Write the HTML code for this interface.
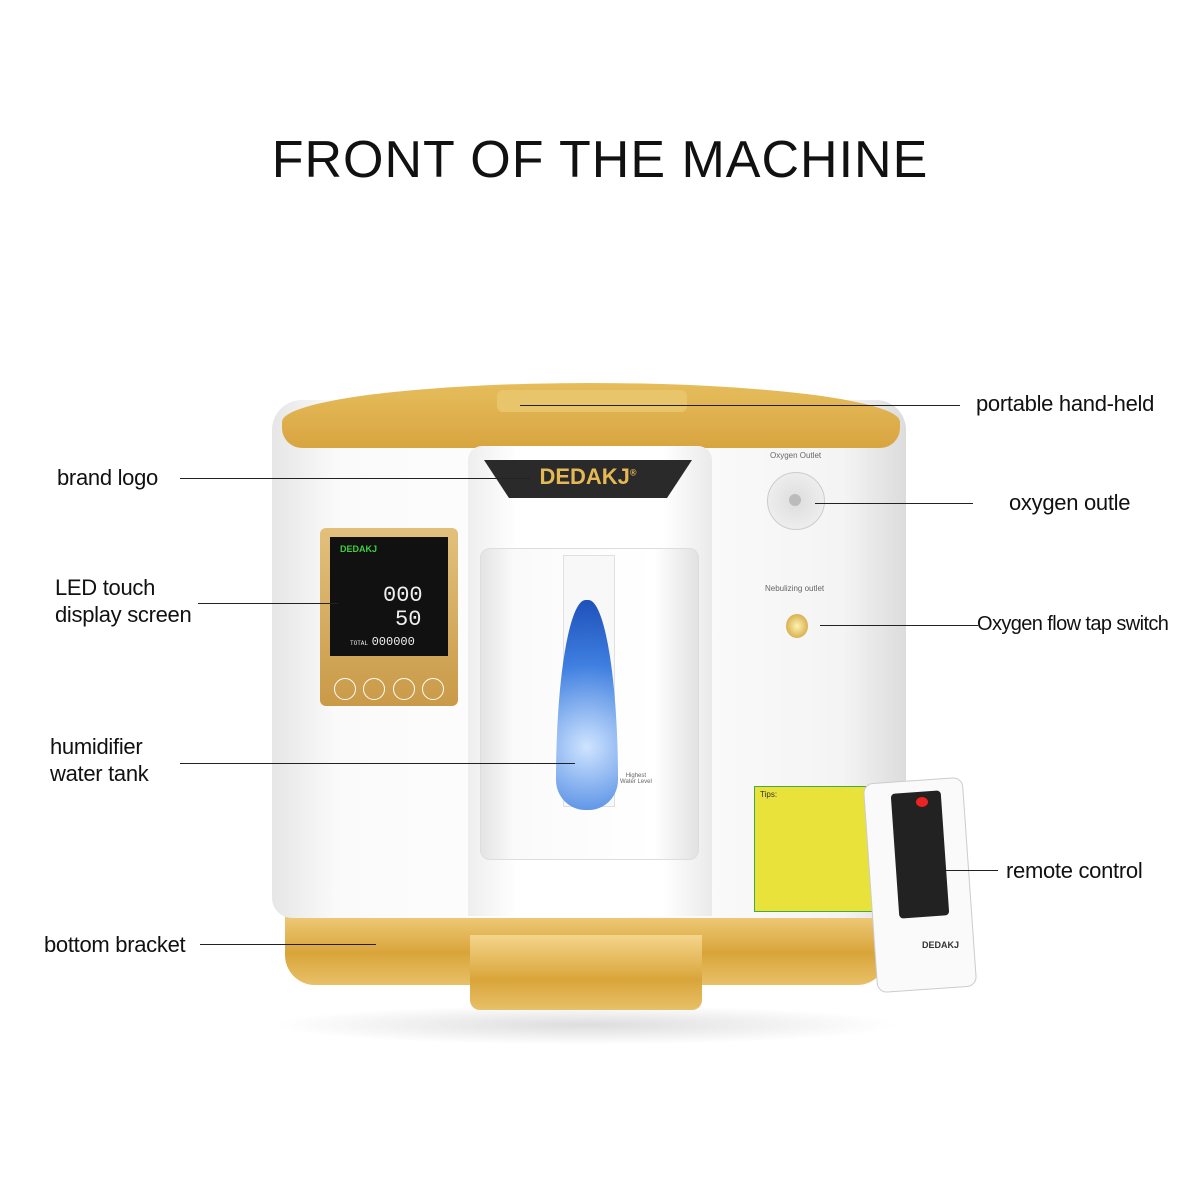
<!DOCTYPE html>
<html><head><meta charset="utf-8"><style>
body{margin:0;width:1200px;height:1200px;background:#fff;position:relative;overflow:hidden;font-family:"Liberation Sans",sans-serif}
.a{position:absolute}
.lbl{position:absolute;font-size:22px;color:#111;line-height:27px;letter-spacing:-0.3px}
.ln{position:absolute;height:1px;background:#222}
</style></head><body>
<div class="a" style="left:0;width:1200px;top:130px;text-align:center;font-size:52px;letter-spacing:1px;color:#111">FRONT OF THE MACHINE</div>

<div class="a" style="left:270px;top:1005px;width:630px;height:40px;border-radius:50%;background:radial-gradient(#ddd,#fff 70%)"></div>
<!-- bottom gold -->
<div class="a" style="left:285px;top:905px;width:602px;height:80px;border-radius:0 0 30px 30px;background:linear-gradient(#f4d58a,#d9a53a 60%,#e8c068)"></div>
<div class="a" style="left:470px;top:935px;width:232px;height:75px;border-radius:0 0 10px 10px;background:linear-gradient(#f4d58a,#d9a53a 60%,#e8c068)"></div>
<div class="a" style="left:272px;top:400px;width:634px;height:518px;border-radius:30px 30px 20px 20px;background:linear-gradient(90deg,#e6e6e6,#fafafa 10%,#fff 50%,#f4f4f4 90%,#dcdcdc)"></div>
<div class="a" style="left:282px;top:383px;width:618px;height:65px;border-radius:50% 50% 20px 20px/60% 60% 20px 20px;background:linear-gradient(#e6bd5c,#d8a540)"></div>
<div class="a" style="left:497px;top:390px;width:190px;height:22px;border-radius:6px;background:#e8c46a"></div>
<div class="a" style="left:468px;top:446px;width:244px;height:470px;border-radius:14px 14px 0 0;background:linear-gradient(90deg,#eee,#fff 20%,#fff 80%,#eaeaea)"></div>
<div class="a" style="left:484px;top:460px;width:208px;height:38px;background:#2a2a2a;clip-path:polygon(0 0,100% 0,88% 100%,12% 100%)"></div>
<div class="a" style="left:484px;top:464px;width:208px;text-align:center;font-weight:bold;font-size:22px;color:#e5b856">DEDAKJ<sup style="font-size:9px">®</sup></div>
<div class="a" style="left:480px;top:548px;width:217px;height:310px;border-radius:10px;background:linear-gradient(90deg,#e4e4e4,#fafafa 15%,#fff 80%,#e2e2e2);border:1px solid #ddd"></div>
<div class="a" style="left:563px;top:555px;width:50px;height:250px;background:#f8f8f8;border:1px solid #e0e0e0"></div>
<div class="a" style="left:556px;top:600px;width:62px;height:210px;background:radial-gradient(circle at 50% 70%,#cfe4ff,#3f7fe0 55%,#1d4fb8);border-radius:50% 50% 50% 50%/90% 90% 15% 15%"></div>
<div class="a" style="left:620px;top:773px;font-size:6px;color:#666;text-align:center">Highest<br>Water Level</div>
<div class="a" style="left:320px;top:528px;width:138px;height:178px;border-radius:6px;background:linear-gradient(#e2c07c,#c99a48)"></div>
<div class="a" style="left:330px;top:537px;width:118px;height:119px;background:#111"></div>
<div class="a" style="left:340px;top:544px;font-size:9px;color:#3ecf3e;font-weight:bold">DEDAKJ</div>
<div class="a" style="left:383px;top:583px;font-size:22px;color:#eee;font-family:'Liberation Mono',monospace">000</div>
<div class="a" style="left:395px;top:607px;font-size:22px;color:#eee;font-family:'Liberation Mono',monospace">50</div>
<div class="a" style="left:350px;top:635px;font-size:12px;color:#eee;font-family:'Liberation Mono',monospace"><span style="font-size:6px">TOTAL </span>000000</div>
<div class="a" style="left:334px;top:678px;width:110px;display:flex;justify-content:space-between">
<span style="width:20px;height:20px;border:1px solid #fff;border-radius:50%"></span><span style="width:20px;height:20px;border:1px solid #fff;border-radius:50%"></span><span style="width:20px;height:20px;border:1px solid #fff;border-radius:50%"></span><span style="width:20px;height:20px;border:1px solid #fff;border-radius:50%"></span></div>
<div class="a" style="left:770px;top:451px;font-size:8px;color:#666">Oxygen Outlet</div>
<div class="a" style="left:767px;top:472px;width:56px;height:56px;border-radius:50%;background:radial-gradient(#ddd,#f4f4f4);border:1px solid #ccc"></div>
<div class="a" style="left:789px;top:494px;width:12px;height:12px;border-radius:50%;background:#bbb"></div>
<div class="a" style="left:765px;top:584px;font-size:8px;color:#666">Nebulizing outlet</div>
<div class="a" style="left:786px;top:614px;width:22px;height:24px;border-radius:50%;background:radial-gradient(#fff3b0,#c8952a)"></div>
<div class="a" style="left:754px;top:786px;width:118px;height:124px;background:#e9e23a;border:1px solid #4a4"></div>
<div class="a" style="left:760px;top:790px;font-size:8px;color:#333">Tips:</div>
<div class="a" style="left:870px;top:780px;width:98px;height:208px;border-radius:10px;background:#fafafa;border:1px solid #ccc;transform:rotate(-4deg)"></div>
<div class="a" style="left:895px;top:792px;width:50px;height:125px;border-radius:4px;background:#222;transform:rotate(-4deg)"></div>
<div class="a" style="left:916px;top:797px;width:12px;height:10px;border-radius:50%;background:#e22"></div>
<div class="a" style="left:922px;top:940px;font-size:9px;font-weight:bold;color:#333">DEDAKJ</div>

<div class="lbl" style="left:976px;top:390px">portable hand-held</div>
<div class="ln" style="left:520px;top:405px;width:440px"></div>
<div class="lbl" style="left:57px;top:464px">brand logo</div>
<div class="ln" style="left:180px;top:478px;width:350px"></div>
<div class="lbl" style="left:1009px;top:489px">oxygen outle</div>
<div class="ln" style="left:815px;top:503px;width:158px"></div>
<div class="lbl" style="left:55px;top:574px">LED touch<br>display screen</div>
<div class="ln" style="left:198px;top:603px;width:140px"></div>
<div class="lbl" style="left:977px;top:611px;font-size:20px;letter-spacing:-0.6px">Oxygen flow tap switch</div>
<div class="ln" style="left:820px;top:625px;width:158px"></div>
<div class="lbl" style="left:50px;top:733px">humidifier<br>water tank</div>
<div class="ln" style="left:180px;top:763px;width:395px"></div>
<div class="lbl" style="left:1006px;top:857px">remote control</div>
<div class="ln" style="left:940px;top:870px;width:58px"></div>
<div class="lbl" style="left:44px;top:931px">bottom bracket</div>
<div class="ln" style="left:200px;top:944px;width:176px"></div>
</body></html>
